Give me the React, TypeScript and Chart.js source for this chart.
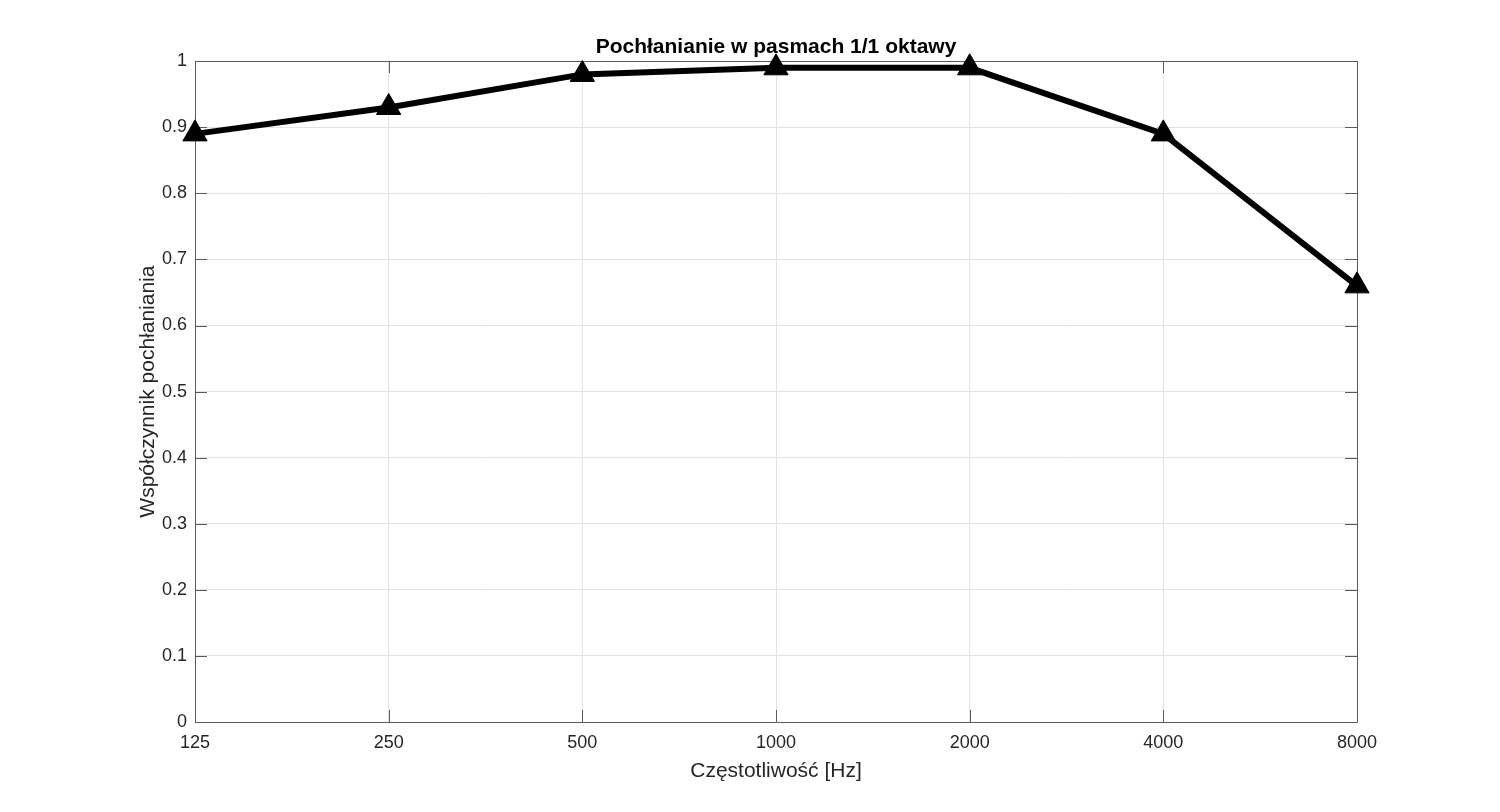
import React, { useEffect, useRef } from "react";
import { Chart, registerables } from "chart.js";

Chart.register(...registerables);

const frequencies = ["125", "250", "500", "1000", "2000", "4000", "8000"];
const absorption = [0.89, 0.93, 0.98, 0.99, 0.99, 0.89, 0.66];
const titleText = "Pochłanianie w pasmach 1/1 oktawy";
const xLabel = "Częstotliwość [Hz]";
const yLabel = "Współczynnik pochłaniania";

const FONT = "'Liberation Sans', Arial, Helvetica, sans-serif";
const AXIS_COLOR = "#262626";
const BOX_COLOR = "#5a5a5a";
const GRID_COLOR = "#e3e3e3";

const matlabBox = {
  id: "matlabBox",
  beforeDatasetsDraw(chart: any) {
    const { ctx, chartArea } = chart;
    const { left, right, top, bottom } = chartArea;
    const xs = chart.scales.x;
    const ys = chart.scales.y;
    const tl = 12;
    ctx.save();
    ctx.strokeStyle = BOX_COLOR;
    ctx.lineWidth = 1;
    ctx.beginPath();
    xs.ticks.forEach((_: any, i: number) => {
      const px = Math.round(xs.getPixelForTick(i)) + 0.5;
      ctx.moveTo(px, bottom);
      ctx.lineTo(px, bottom - tl);
      ctx.moveTo(px, top);
      ctx.lineTo(px, top + tl);
    });
    ys.ticks.forEach((_: any, i: number) => {
      const py = Math.round(ys.getPixelForTick(i)) + 0.5;
      ctx.moveTo(left, py);
      ctx.lineTo(left + tl, py);
      ctx.moveTo(right, py);
      ctx.lineTo(right - tl, py);
    });
    ctx.stroke();
    ctx.beginPath();
    ctx.rect(Math.round(left) + 0.5, Math.round(top) + 0.5, Math.round(right - left), Math.round(bottom - top));
    ctx.stroke();
    ctx.restore();
  },
};

export default function App() {
  const ref = useRef<HTMLCanvasElement | null>(null);
  useEffect(() => {
    document.body.style.margin = "0";
    const canvas = ref.current;
    if (!canvas) return;
    const chart = new Chart(canvas, {
      type: "line",
      data: {
        labels: frequencies,
        datasets: [
          {
            data: absorption,
            borderColor: "#000000",
            backgroundColor: "#000000",
            borderWidth: 6,
            pointStyle: "triangle",
            pointRadius: 14,
            pointBorderWidth: 1,
            pointBackgroundColor: "#000000",
            pointBorderColor: "#000000",
            tension: 0,
            clip: false as any,
          },
        ],
      },
      options: {
        responsive: false,
        animation: false,
        layout: { padding: { left: 0, right: 143, top: 0, bottom: 0 } },
        plugins: {
          legend: { display: false },
          tooltip: { enabled: false },
          title: {
            display: true,
            text: titleText,
            fullSize: false,
            color: "#000000",
            font: { family: FONT, size: 21, weight: "bold" },
            padding: { top: 35, bottom: 1 },
          },
        },
        scales: {
          x: {
            type: "category",
            offset: false,
            afterFit(scale: any) {
              scale.height = 90;
            },
            grid: { color: GRID_COLOR, drawTicks: false, lineWidth: 1 },
            border: { display: false },
            ticks: {
              color: AXIS_COLOR,
              font: { family: FONT, size: 18 },
              padding: 10,
              maxRotation: 0,
              autoSkip: false,
            },
            title: {
              display: true,
              text: xLabel,
              color: AXIS_COLOR,
              font: { family: FONT, size: 21 },
              padding: { top: 0, bottom: 28 },
            },
          },
          y: {
            type: "linear",
            min: 0,
            max: 1,
            afterFit(scale: any) {
              scale.width = 195;
            },
            grid: { color: GRID_COLOR, drawTicks: false, lineWidth: 1 },
            border: { display: false },
            ticks: {
              stepSize: 0.1,
              color: AXIS_COLOR,
              font: { family: FONT, size: 18 },
              padding: 8,
              callback: (v: any) => String(Math.round(Number(v) * 10) / 10),
            },
            title: {
              display: true,
              text: yLabel,
              color: AXIS_COLOR,
              font: { family: FONT, size: 21 },
              padding: { top: 136, bottom: 0 },
            },
          },
        },
      },
      plugins: [matlabBox],
    });
    return () => chart.destroy();
  }, []);
  return (
    <div style={{ width: 1500, height: 812, background: "#ffffff" }}>
      <canvas ref={ref} width={1500} height={812} />
    </div>
  );
}
